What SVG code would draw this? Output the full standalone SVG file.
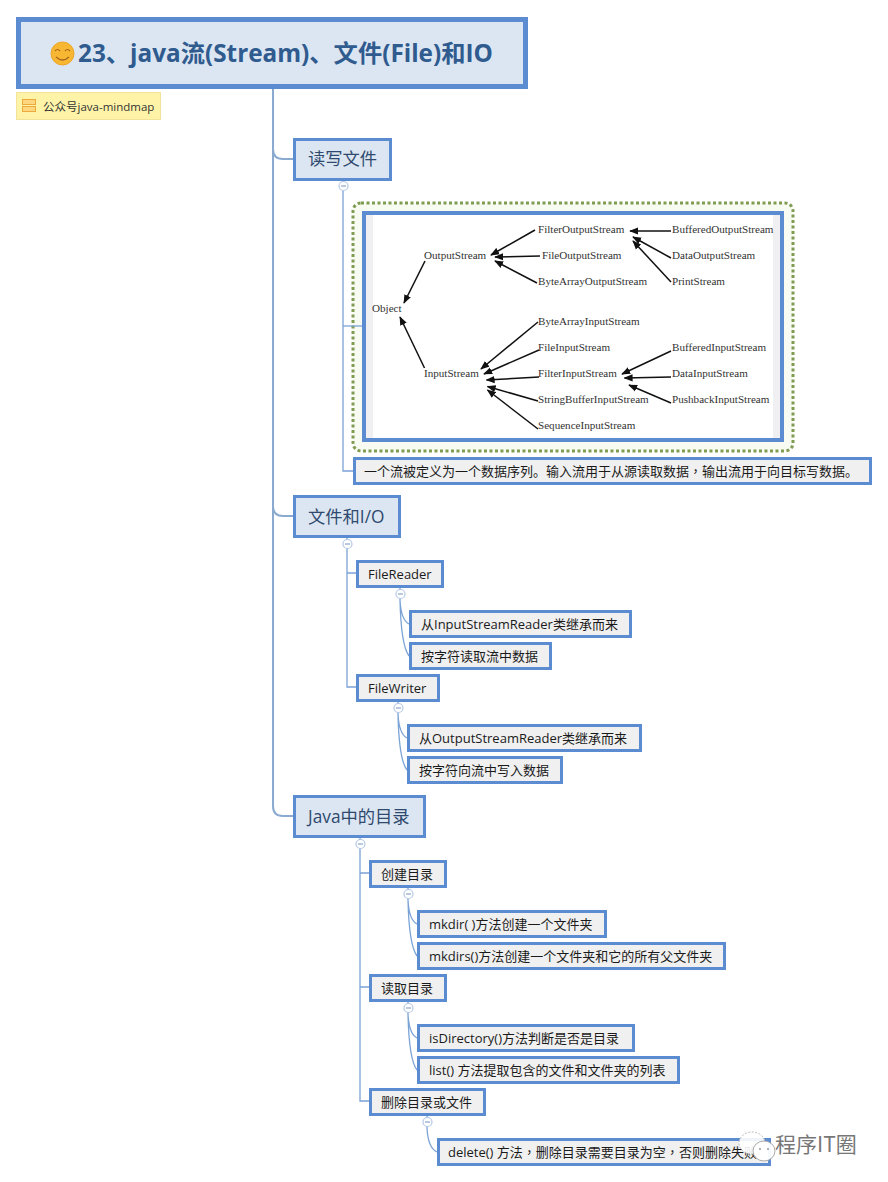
<svg xmlns="http://www.w3.org/2000/svg" width="888" height="1182" viewBox="0 0 888 1182">
<defs>
<marker id="ah" viewBox="0 0 10 8" refX="9" refY="4" markerWidth="9" markerHeight="8" markerUnits="userSpaceOnUse" orient="auto"><path d="M0 0L10 4L0 8Z" fill="#111"/></marker>
</defs>
<style>
text{font-family:"Liberation Sans","Noto Sans CJK SC",sans-serif}
.main{fill:#dce6f2;stroke:#5b8bd0;stroke-width:3}
.sub{fill:#f0f0f0;stroke:#5b8bd0;stroke-width:3}
.t1{font-size:17.300px;fill:#2f4a6e;font-family:"Open Sans","Noto Sans CJK SC",sans-serif}
.t2{font-size:13px;fill:#1a1a1a;font-family:"Open Sans","Noto Sans CJK SC",sans-serif}
.tc{font-family:"Noto Sans CJK TC",sans-serif}
.c{fill:none;stroke:#7ba3d6;stroke-width:1.3}
.tr{fill:none;stroke:#8aaad0;stroke-width:2}
.col{fill:#fff;stroke:#b4c8e6;stroke-width:1.2}
.m{stroke:#8aa6cc;stroke-width:1.2}
.d{font-family:"Liberation Serif",serif;font-size:11.100px;fill:#333}
.a{stroke:#111;stroke-width:1.5;fill:none;marker-end:url(#ah)}
</style>
<g id="connectors">
<path class="tr" d="M273 88V806Q273 816 283 816H293M273 149Q273 159 283 159H293M273 506Q273 516 283 516H293"/>
<path class="c" d="M343 180V471H353M347 537V687H356M347 573H356"/>
<path class="c" d="M400 587V600Q401 620 409 624M400 600Q401 645 409 656M398 701V714Q399 734 407 738M398 714Q399 760 407 770"/>
<path class="c" d="M360 837V1101H369M360 873H369M360 987H369"/>
<path class="c" d="M408 887V900Q409 920 417 924M408 900Q409 945 417 956M408 1001V1014Q409 1034 417 1038M408 1014Q409 1060 417 1070M427 1115V1128Q428 1148 437 1152"/>
</g>
<g id="root">
<rect x="18.500" y="19.500" width="507" height="67" fill="#dce6f2" stroke="#5b8bd0" stroke-width="5"/>
<circle cx="62.500" cy="53.500" r="11.500" fill="#f7b733" stroke="#eca52a" stroke-width="1"/>
<path d="M55 51q2.500-3 5 0M65 51q2.500-3 5 0M56 57q6.500 6 13 0" fill="none" stroke="#a8651a" stroke-width="1.200"/>
<text x="78" y="62" font-size="24.300" font-weight="700" fill="#2f5b8f" style="font-family:'Open Sans','Noto Sans CJK SC',sans-serif">23、java流(Stream)、文件(File)和IO</text>
</g>
<g id="note">
<rect x="16.500" y="92.500" width="144" height="27" fill="#fff3a8" stroke="#f2e29a"/>
<rect x="22.500" y="99.500" width="13" height="5" fill="#fcd77f" stroke="#eda93a"/>
<rect x="22.500" y="106.500" width="13" height="5" fill="#fcd77f" stroke="#eda93a"/>
<text x="43" y="111" font-size="11.500" fill="#333" style="font-family:'Open Sans','Noto Sans CJK SC',sans-serif">公众号java-mindmap</text>
</g>
<g id="n1"><rect class="main" x="294.500" y="139.500" width="96" height="40"/><text class="t1" x="308" y="165">读写文件</text></g>
<g id="img">
<rect x="353" y="203" width="440" height="248" rx="8" fill="#f8fbf2" stroke="#7f9c50" stroke-width="3" stroke-dasharray="3 2.500"/>
<path class="c" d="M343 326H362"/>
<rect x="364" y="213" width="418" height="227" fill="#f0f0f3" stroke="#5b8bd0" stroke-width="4"/>
<rect x="373" y="215" width="400" height="223" fill="#fff"/>
<text class="d" x="372" y="312">Object</text>
<text class="d" x="424" y="259">OutputStream</text>
<text class="d" x="424" y="377">InputStream</text>
<text class="d" x="538" y="233">FilterOutputStream</text>
<text class="d" x="542" y="259">FileOutputStream</text>
<text class="d" x="538" y="285">ByteArrayOutputStream</text>
<text class="d" x="672" y="233">BufferedOutputStream</text>
<text class="d" x="672" y="259">DataOutputStream</text>
<text class="d" x="672" y="285">PrintStream</text>
<text class="d" x="538" y="325">ByteArrayInputStream</text>
<text class="d" x="538" y="351">FileInputStream</text>
<text class="d" x="538" y="377">FilterInputStream</text>
<text class="d" x="538" y="403">StringBufferInputStream</text>
<text class="d" x="538" y="429">SequenceInputStream</text>
<text class="d" x="672" y="351">BufferedInputStream</text>
<text class="d" x="672" y="377">DataInputStream</text>
<text class="d" x="672" y="403">PushbackInputStream</text>
<path class="a" d="M425 261L404 303"/><path class="a" d="M424.500 368L400 317"/>
<path class="a" d="M535 230L491 255"/><path class="a" d="M540 256L495 257"/><path class="a" d="M537 283L495 261"/>
<path class="a" d="M671 231L630 231"/><path class="a" d="M671 258L633 237"/><path class="a" d="M671 282L633 241"/>
<path class="a" d="M538 322L481 369"/><path class="a" d="M539 350L484 374"/><path class="a" d="M539 377L486.500 380"/><path class="a" d="M538 401L487.500 386.500"/><path class="a" d="M538 429L487.500 390"/>
<path class="a" d="M671 351L622 374"/><path class="a" d="M671 377L624.500 378"/><path class="a" d="M671 403L629 385"/>
</g>
<g id="n1a"><rect class="sub" x="354.500" y="458.500" width="516" height="25"/><text class="t2" x="364" y="476">一个流被定义为一个数据序列。输入流用于从源读取数据<tspan class="tc">，</tspan>输出流用于向目标写数据。</text></g>
<g id="n2"><rect class="main" x="294.500" y="496.500" width="105" height="40"/><text class="t1" x="308" y="523">文件和I/O</text></g>
<g id="n2a"><rect class="sub" x="357.500" y="561.500" width="85" height="25"/><text class="t2" x="368" y="579">FileReader</text></g>
<g id="n2a1"><rect class="sub" x="410.500" y="611.500" width="220" height="25"/><text class="t2" x="421" y="629">从InputStreamReader类继承而来</text></g>
<g id="n2a2"><rect class="sub" x="410.500" y="643.500" width="140" height="25"/><text class="t2" x="421" y="661">按字符读取流中数据</text></g>
<g id="n2b"><rect class="sub" x="357.500" y="675.500" width="81" height="25"/><text class="t2" x="368" y="693">FileWriter</text></g>
<g id="n2b1"><rect class="sub" x="408.500" y="725.500" width="232" height="25"/><text class="t2" x="419" y="743">从OutputStreamReader类继承而来</text></g>
<g id="n2b2"><rect class="sub" x="408.500" y="757.500" width="153" height="25"/><text class="t2" x="419" y="775">按字符向流中写入数据</text></g>
<g id="n3"><rect class="main" x="294.500" y="796.500" width="130" height="40"/><text class="t1" x="308" y="823">Java中的目录</text></g>
<g id="n3a"><rect class="sub" x="370.500" y="861.500" width="75" height="25"/><text class="t2" x="381" y="879">创建目录</text></g>
<g id="n3a1"><rect class="sub" x="418.500" y="911.500" width="187" height="25"/><text class="t2" x="429" y="929">mkdir( )方法创建一个文件夹</text></g>
<g id="n3a2"><rect class="sub" x="418.500" y="943.500" width="306" height="25"/><text class="t2" x="429" y="961">mkdirs()方法创建一个文件夹和它的所有父文件夹</text></g>
<g id="n3b"><rect class="sub" x="370.500" y="975.500" width="75" height="25"/><text class="t2" x="381" y="993">读取目录</text></g>
<g id="n3b1"><rect class="sub" x="418.500" y="1025.500" width="215" height="25"/><text class="t2" x="429" y="1043">isDirectory()方法判断是否是目录</text></g>
<g id="n3b2"><rect class="sub" x="418.500" y="1057.500" width="260" height="25"/><text class="t2" x="429" y="1075">list() 方法提取包含的文件和文件夹的列表</text></g>
<g id="n3c"><rect class="sub" x="370.500" y="1089.500" width="114" height="25"/><text class="t2" x="381" y="1107">删除目录或文件</text></g>
<g id="n3c1"><rect class="sub" x="438.500" y="1139.500" width="331" height="25"/><text class="t2" x="448" y="1157">delete() 方法<tspan class="tc">，</tspan>删除目录需要目录为空<tspan class="tc">，</tspan>否则删除失败</text></g>
<g id="toggles">
<g><circle class="col" cx="343.500" cy="186" r="4.500"/><path class="m" d="M341 186H346"/></g>
<g><circle class="col" cx="347.500" cy="544" r="4.500"/><path class="m" d="M345 544H350"/></g>
<g><circle class="col" cx="400.500" cy="594" r="4.500"/><path class="m" d="M398 594H403"/></g>
<g><circle class="col" cx="398.500" cy="708" r="4.500"/><path class="m" d="M396 708H401"/></g>
<g><circle class="col" cx="360.500" cy="844" r="4.500"/><path class="m" d="M358 844H363"/></g>
<g><circle class="col" cx="408.500" cy="894" r="4.500"/><path class="m" d="M406 894H411"/></g>
<g><circle class="col" cx="408.500" cy="1008" r="4.500"/><path class="m" d="M406 1008H411"/></g>
<g><circle class="col" cx="427.500" cy="1122" r="4.500"/><path class="m" d="M425 1122H430"/></g>
</g>
<g id="watermark">
<ellipse cx="752" cy="1143" rx="13" ry="11" fill="#fff" fill-opacity=".9" stroke="#bbb" stroke-dasharray="2 1.500"/>
<ellipse cx="764" cy="1151" rx="11" ry="10" fill="#fff" fill-opacity=".95" stroke="#aaa"/>
<circle cx="760" cy="1149" r="1" fill="#999"/><circle cx="768" cy="1149" r="1" fill="#999"/>
<text x="775" y="1152" font-size="21" fill="#777" style="font-family:'Noto Sans CJK SC',sans-serif">程序IT圈</text>
</g>
</svg>
